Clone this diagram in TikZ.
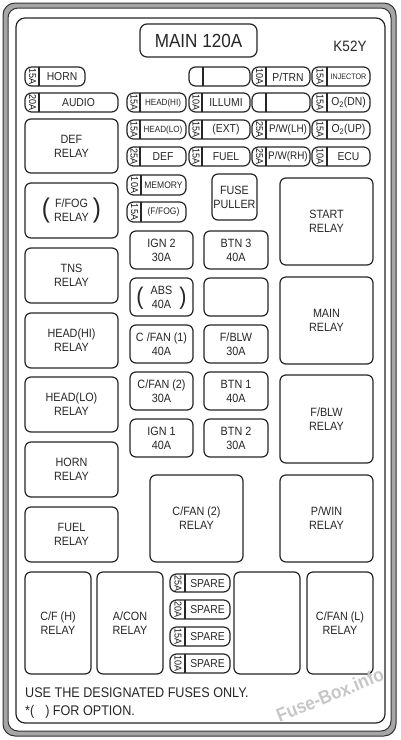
\documentclass[tikz,border=0pt]{standalone}
\usepackage{fontspec}
\setmainfont{Liberation Sans}[FakeStretch=0.9]
\newcommand{\fsz}[1]{\fontsize{#1}{14}\selectfont}
\tikzset{
  ln/.style={draw=black!85, line width=1.2pt},
  fusebox/.style={ln, rectangle, rounded corners=6.5pt, inner sep=0pt, outer sep=0pt},
  relaybox/.style={ln, rectangle, rounded corners=6pt, inner sep=0pt, outer sep=0pt, align=center, text=black!85, font=\fsz{12}},
  amp/.style={rotate=-90, inner sep=0pt, text=black!90, font=\fsz{10}},
  flab/.style={inner sep=0pt, text=black!85},
  paren/.style={inner sep=0pt, text=black!85, font=\fontsize{27}{27}\selectfont},
}
% name, x1, y1, x2, y2, divider x, amp, label, font size
\newcommand{\fz}[9]{%
  \node[fusebox, minimum width={(#4-#2)*1pt}, minimum height={(#5-#3)*1pt}] (#1) at ({(#2+#4)/2},{(#3+#5)/2}) {};
  \draw[ln, rounded corners=0pt] ([xshift={(#6-#2)*1pt}]#1.north west) -- ([xshift={(#6-#2)*1pt}]#1.south west);
  \node[amp] (#1a) at ({(#2+#6)/2+0.5},{(#3+#5)/2}) {#7};
  \node[flab, font=\fsz{#9}] (#1l) at ({(#6+#4)/2},{(#3+#5)/2+0.5}) {#8};
}
% name, x1, y1, x2, y2, text
\newcommand{\rl}[6]{%
  \node[relaybox, minimum width={(#4-#2)*1pt}, minimum height={(#5-#3)*1pt}] (#1) at ({(#2+#4)/2},{(#3+#5)/2}) {#6};
}
\begin{document}
\begin{tikzpicture}[x=1pt,y=-1pt]
\useasboundingbox (0,0) rectangle (400,740);
% frame
\draw[draw=black!80, fill=black!35, line width=1pt, rounded corners=12pt] (3,3) rectangle (396,736);
\draw[draw=black!80, fill=white, line width=1pt, rounded corners=10pt] (8,8) rectangle (391,731);
\draw[ln, rounded corners=9pt] (16,18) rectangle (385,723);

% header
\node[relaybox, rounded corners=7pt, minimum width=117pt, minimum height=33pt, font=\fsz{19}] (main) at (198.5,40.5) {MAIN 120A};
\node[flab, font=\fsz{15}] (k52y) at (350,46) {K52Y};

% small fuses
\fz{horn}{25}{67}{85}{86}{39}{15A}{HORN}{11.5}
\fz{blanka}{189}{67}{250}{86}{203}{}{}{11}
\fz{ptrn}{252}{67}{310}{86}{266}{10A}{P/TRN}{11.5}
\fz{inj}{312}{67}{370}{86}{327}{15A}{INJECTOR}{8}
\fz{audio}{25}{93}{118}{112}{39}{20A}{AUDIO}{11.5}
\fz{headhi}{127}{93}{186}{112}{140}{15A}{HEAD(HI)}{9}
\fz{illumi}{189}{93}{250}{112}{202}{10A}{ILLUMI}{11.5}
\fz{blankb}{252}{93}{310}{112}{266}{}{}{11}
\fz{otdn}{312}{93}{370}{112}{327}{15A}{O\textsubscript{2}(DN)}{11.5}
\fz{headlo}{127}{120}{186}{139}{140}{15A}{HEAD(LO)}{9}
\fz{ext}{189}{120}{250}{139}{202}{15A}{(EXT)}{11.5}
\fz{pwlh}{252}{120}{310}{139}{266}{25A}{P/W(LH)}{11}
\fz{otup}{312}{120}{370}{139}{327}{15A}{O\textsubscript{2}(UP)}{11.5}
\fz{def}{127}{147}{186}{166}{140}{25A}{DEF}{11.5}
\fz{fuel}{189}{147}{250}{166}{202}{15A}{FUEL}{11.5}
\fz{pwrh}{252}{147}{310}{166}{266}{25A}{P/W(RH)}{11}
\fz{ecu}{312}{147}{370}{166}{327}{10A}{ECU}{11.5}
\fz{memory}{127}{175}{186}{195}{141}{10A}{MEMORY}{9.5}
\fz{ffog}{127}{202}{186}{222}{141}{15A}{(F/FOG)}{9.5}
\fz{sparea}{170}{574}{230}{592}{185}{25A}{SPARE}{11.5}
\fz{spareb}{170}{600}{230}{619}{185}{20A}{SPARE}{11.5}
\fz{sparec}{170}{627}{230}{646}{185}{15A}{SPARE}{11.5}
\fz{spared}{170}{654}{230}{673}{185}{10A}{SPARE}{11.5}

% left relays
\rl{defr}{25}{119}{118}{173}{DEF\\RELAY}
\rl{ffogr}{25}{183}{118}{238}{F/FOG\\RELAY}
\node[paren] (ffogpl) at (46,211) {(};
\node[paren] (ffogpr) at (97,211) {)};
\rl{tnsr}{25}{248}{118}{303}{TNS\\RELAY}
\rl{headhir}{25}{313}{118}{368}{HEAD(HI)\\RELAY}
\rl{headlor}{25}{377}{118}{432}{HEAD(LO)\\RELAY}
\rl{hornr}{25}{442}{118}{497}{HORN\\RELAY}
\rl{fuelr}{25}{507}{118}{562}{FUEL\\RELAY}

% middle fuses
\rl{puller}{212}{174}{257}{220}{FUSE\\PULLER}
\rl{ign2}{130}{231}{193}{269}{IGN 2\\30A}
\rl{btn3}{204}{231}{268}{269}{BTN 3\\40A}
\rl{abs}{130}{278}{193}{316}{ABS\\40A}
\node[paren, font=\fontsize{24}{24}\selectfont] (abspl) at (140,298) {(};
\node[paren, font=\fontsize{24}{24}\selectfont] (abspr) at (183,298) {)};
\rl{blankc}{204}{278}{268}{316}{}
\rl{cfan1}{130}{325}{193}{363}{C /FAN (1)\\40A}
\rl{fblw}{204}{325}{268}{363}{F/BLW\\30A}
\rl{cfan2}{130}{372}{193}{410}{C/FAN (2)\\30A}
\rl{btn1}{204}{372}{268}{410}{BTN 1\\40A}
\rl{ign1}{130}{419}{193}{457}{IGN 1\\40A}
\rl{btn2}{204}{419}{268}{457}{BTN 2\\30A}
\rl{cfan2r}{150}{475}{243}{562}{C/FAN (2)\\RELAY}

% right relays
\rl{startr}{280}{178}{373}{265}{START\\RELAY}
\rl{mainr}{280}{277}{373}{364}{MAIN\\RELAY}
\rl{fblwr}{280}{375}{373}{463}{F/BLW\\RELAY}
\rl{pwinr}{280}{475}{373}{562}{P/WIN\\RELAY}

% bottom row
\rl{cfhr}{25}{572}{91}{674}{C/F (H)\\RELAY}
\rl{aconr}{97}{572}{163}{674}{A/CON\\RELAY}
\rl{blankd}{234}{572}{300}{674}{}
\rl{cfanlr}{307}{572}{373}{674}{C/FAN (L)\\RELAY}

% notes
\node[flab, anchor=base west, font=\fsz{14}] (note1) at (25,697) {USE THE DESIGNATED FUSES ONLY.};
\node[flab, anchor=base west, font=\fsz{14}] (note2) at (25,715) {*(\hspace{11pt}) FOR OPTION.};

% watermark
\node[inner sep=0pt, rotate=22, text=black!22, font=\bfseries\fsz{19}] (wm) at (330,695) {Fuse-Box.info};
\end{tikzpicture}
\end{document}
